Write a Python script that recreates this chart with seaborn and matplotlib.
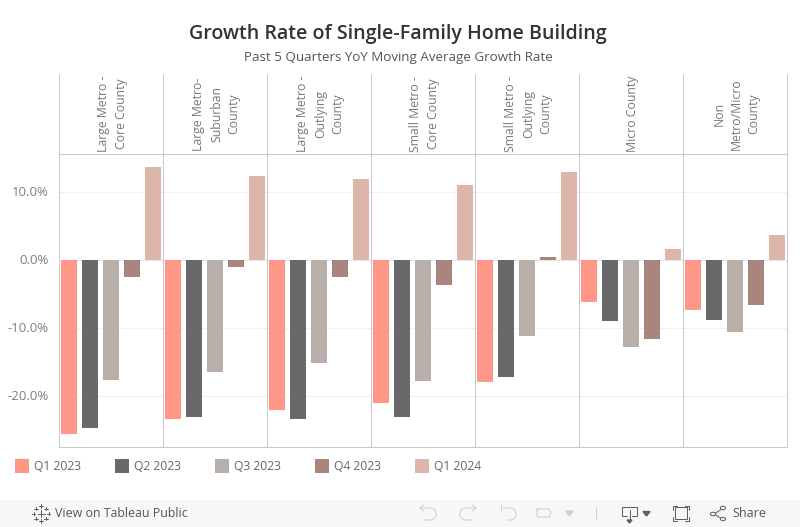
import matplotlib
matplotlib.use("Agg")
import matplotlib.pyplot as plt
from matplotlib.patches import Rectangle, Circle, Polygon
from matplotlib.lines import Line2D
import pandas as pd
import seaborn as sns

counties = ["Large Metro -\nCore County", "Large Metro-\nSuburban\nCounty", "Large Metro -\nOutlying\nCounty",
            "Small Metro -\nCore County", "Small Metro -\nOutlying\nCounty", "Micro County", "Non\nMetro/Micro\nCounty"]
quarters = ["Q1 2023", "Q2 2023", "Q3 2023", "Q4 2023", "Q1 2024"]
colors = ["#FF9787", "#696969", "#B8AFAA", "#A9857D", "#DDB5AB"]
large_core = [-25.7, -24.8, -17.7, -2.6, 13.6]
large_suburban = [-23.4, -23.1, -16.6, -1.1, 12.3]
large_outlying = [-22.2, -23.5, -15.2, -2.6, 11.9]
small_core = [-21.1, -23.2, -17.8, -3.8, 10.9]
small_outlying = [-18.0, -17.3, -11.3, 0.3, 12.8]
micro = [-6.3, -9.1, -12.8, -11.7, 1.5]
non_metro = [-7.4, -8.9, -10.7, -6.7, 3.6]
series = [large_core, large_suburban, large_outlying, small_core, small_outlying, micro, non_metro]

sns.set_theme(style="white")
plt.rcParams["font.family"] = ["Open Sans", "DejaVu Sans"]
W, H = 800, 527
fig = plt.figure(figsize=(W / 100, H / 100), dpi=100, facecolor="white")
fx = lambda x: x / W
fy = lambda y: 1 - y / H

LINE = "#C9C9C9"
LW = 0.72
left, right, top, bottom, header_top = 58.9, 786.9, 154.0, 447.0, 74
pane = (right - left) / len(counties)
zero_y = 259.5
ymax = (zero_y - top) / 6.8
ymin = -(bottom - zero_y) / 6.8

for i, (name, vals) in enumerate(zip(counties, series)):
    ax = fig.add_axes([fx(left + i * pane), fy(bottom), pane / W, (bottom - top) / H])
    df = pd.DataFrame({"quarter": quarters, "value": vals})
    sns.barplot(data=df, x="quarter", y="value", hue="quarter", order=quarters, hue_order=quarters,
                palette=colors, width=0.762, legend=False, saturation=1, ax=ax, zorder=3, linewidth=0)
    ax.set_xlim(-0.482, 4.47)
    ax.set_ylim(ymin, ymax)
    ax.set_xlabel("")
    ax.set_ylabel("")
    ax.set_xticks([])
    ax.set_yticks([-20, -10, 0, 10])
    ax.patch.set_alpha(0)
    for y in [-20, -10, 10]:
        ax.axhline(y, color="#F0F0F0", lw=LW, zorder=1)
    ax.axhline(0, color="#B5B5B5", lw=LW, ls=(0, (1, 2)), zorder=2)
    for s in ["top", "right"]:
        ax.spines[s].set_visible(False)
    for s in ["bottom", "left"]:
        ax.spines[s].set_color(LINE)
        ax.spines[s].set_linewidth(LW)
    if i == 0:
        ax.set_yticklabels(["-20.0%", "-10.0%", "0.0%", "10.0%"], fontsize=9.5, color="#7F7F7F")
        ax.tick_params(axis="y", length=0, pad=7.5)
    else:
        ax.tick_params(axis="y", length=0, labelleft=False)
    fig.text(fx(left + (i + 0.5) * pane + 1.5), fy(114), name, rotation=90, ha="center", va="center",
             fontsize=8.8, color="#787878", linespacing=1.45, multialignment="center")
    fig.add_artist(Line2D([fx(left + i * pane)] * 2, [fy(header_top), fy(top)], color=LINE, lw=LW))

fig.add_artist(Line2D([fx(left), fx(right)], [fy(top)] * 2, color=LINE, lw=LW))
fig.add_artist(Line2D([fx(right)] * 2, [fy(header_top), fy(bottom)], color=LINE, lw=LW))

fig.text(fx(398), fy(34), "Growth Rate of Single-Family Home Building", ha="center", va="center",
         fontsize=14.1, color="#333333", fontweight="semibold")
fig.text(fx(398), fy(57.5), "Past 5 Quarters YoY Moving Average Growth Rate", ha="center", va="center",
         fontsize=9.6, color="#555555")

for i, (q, c) in enumerate(zip(quarters, colors)):
    x0 = 15 + i * 100
    fig.add_artist(Rectangle((fx(x0), fy(473)), 14 / W, 14 / H, color=c, transform=fig.transFigure, lw=0))
    fig.text(fx(x0 + 19), fy(466.5), q, ha="left", va="center", fontsize=8.7, color="#666666")

# Tableau toolbar
fig.add_artist(Rectangle((0, 0), 1, 27 / H, color="#F7F7F7", transform=fig.transFigure, lw=0, zorder=-5))
fig.text(fx(55), fy(513.5), "View on Tableau Public", ha="left", va="center", fontsize=8.9,
         color="#555555", fontweight="medium")
fig.text(fx(732), fy(513.5), "Share", ha="left", va="center", fontsize=9, color="#555555", fontweight="medium")

def seg(xs, ys, color="#5F5F5F", lw=LW):
    fig.add_artist(Line2D([fx(x) for x in xs], [fy(y) for y in ys], color=color, lw=lw))

# logo cross marks
for cx, cy, r in [(41, 513.5, 3.5), (33.5, 513.5, 1.8), (48.5, 513.5, 1.8), (41, 506, 1.8), (41, 521, 1.8),
                  (36, 508.5, 1.8), (46, 508.5, 1.8), (36, 518.5, 1.8), (46, 518.5, 1.8)]:
    seg([cx - r, cx + r], [cy, cy])
    seg([cx, cx], [cy - r, cy + r])

# undo / redo family (disabled)
G = "#CFCFCF"
seg([420, 431, 435, 436.5, 435, 431, 424], [508, 508, 510, 514, 518, 520, 520], G)
seg([420, 424], [508, 505], G); seg([420, 424], [508, 511], G)
seg([476, 465, 461, 459.5, 461, 465, 472], [508, 508, 510, 514, 518, 520, 520], G)
seg([476, 472], [508, 505], G); seg([476, 472], [508, 511], G)
seg([501, 501], [505, 511], G)
seg([503, 512, 515, 516, 515, 512, 507], [508, 508, 510, 514, 518, 520, 520], G)
seg([536, 549, 551, 549, 538, 536, 538], [509, 509, 513, 517, 517, 513, 509], G)
seg([596, 596], [507, 520], G)
fig.add_artist(Polygon([(fx(566), fy(511)), (fx(573), fy(511)), (fx(569.5), fy(516))], color=G, transform=fig.transFigure))
# download
seg([627, 622, 622, 636.5, 636.5, 632], [516, 516, 507, 507, 516, 516])
seg([629.5, 629.5], [510, 522])
fig.add_artist(Polygon([(fx(627), fy(520)), (fx(632), fy(520)), (fx(629.5), fy(523))], color="#5F5F5F", transform=fig.transFigure))
fig.add_artist(Polygon([(fx(643), fy(511.5)), (fx(650), fy(511.5)), (fx(646.5), fy(516))], color="#5F5F5F", transform=fig.transFigure))
# fullscreen
fig.add_artist(Rectangle((fx(675), fy(519)), 12 / W, 12 / H, fill=False, ec="#5F5F5F", lw=LW, transform=fig.transFigure))
for xs, ys in [([673, 673, 677], [510, 506, 506]), ([685, 689, 689], [506, 506, 510]),
               ([673, 673, 677], [517, 521, 521]), ([685, 689, 689], [521, 521, 517])]:
    seg(xs, ys)
# share
seg([714, 722], [514, 509]); seg([714, 722], [514, 519])
for cx, cy in [(713, 514), (723, 508), (723, 519)]:
    fig.add_artist(Circle((fx(cx), fy(cy)), 2.6 / W, fill=True, fc="#F7F7F7", ec="#5F5F5F", lw=LW, transform=fig.transFigure, zorder=5))

fig.savefig("out.png", dpi=100, facecolor="white")
